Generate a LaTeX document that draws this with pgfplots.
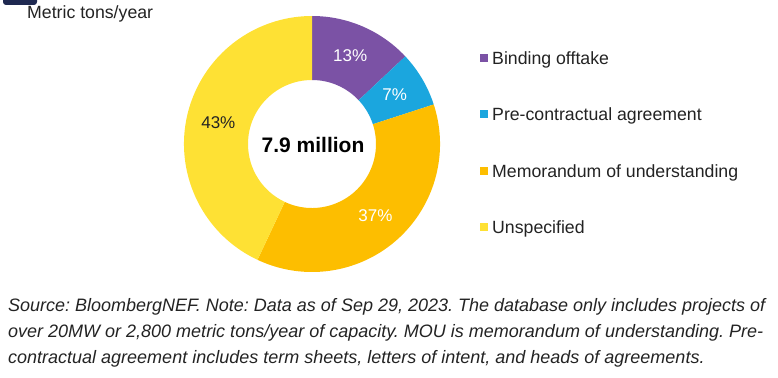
\documentclass[border=0pt]{standalone}
\usepackage{pgfplots}
\pgfplotsset{compat=1.18}
\usepackage{pgfplotstable}
\usepackage{fontspec}
\setmainfont{Liberation Sans}
\frenchspacing
\definecolor{cBind}{RGB}{123,82,165}
\definecolor{cPre}{RGB}{27,166,222}
\definecolor{cMOU}{RGB}{253,190,0}
\definecolor{cUns}{RGB}{254,225,52}
\definecolor{cNavy}{RGB}{30,40,80}
\definecolor{cText}{RGB}{35,35,35}

\pgfplotstableread{
value scol lcol
13 cBind white
7 cPre white
37 cMOU white
43 cUns cText
}\slices

\begin{document}
\begin{tikzpicture}
\useasboundingbox (0,0) rectangle (778bp,378bp);
\begin{axis}[
  at={(0,0)}, anchor=origin,
  x=1bp, y=1bp,
  xmin=0, xmax=778, ymin=0, ymax=378,
  hide axis, clip=false,
]
\pgfplotsextra{
  \def\cx{312}\def\cy{234}\def\Rout{128}\def\Rin{64}\def\Rlab{96}
  \def\acur{90}
  \pgfplotsforeachungrouped \i in {0,...,3}{%
    \pgfplotstablegetelem{\i}{value}\of\slices \let\sval\pgfplotsretval
    \pgfplotstablegetelem{\i}{scol}\of\slices \let\scol\pgfplotsretval
    \pgfplotstablegetelem{\i}{lcol}\of\slices \let\lcol\pgfplotsretval
    \pgfmathsetmacro\aend{\acur-3.6*\sval}
    \pgfmathsetmacro\amid{(\acur+\aend)/2}
    \pgfmathsetmacro\xa{\cx+\Rout*cos(\acur)}
    \pgfmathsetmacro\ya{\cy+\Rout*sin(\acur)}
    \pgfmathsetmacro\xb{\cx+\Rin*cos(\aend)}
    \pgfmathsetmacro\yb{\cy+\Rin*sin(\aend)}
    \pgfmathsetmacro\xm{\cx+\Rlab*cos(\amid)}
    \pgfmathsetmacro\ym{\cy+\Rlab*sin(\amid)}
    \fill[fill=\scol] (axis cs:\xa,\ya) arc[start angle=\acur,end angle=\aend,radius=\Rout bp]
      -- (axis cs:\xb,\yb) arc[start angle=\aend,end angle=\acur,radius=\Rin bp] -- cycle;
    \node[text=\lcol,font=\fontsize{17bp}{20bp}\selectfont] at (axis cs:\xm,\ym) {\sval\%};
    \let\acur\aend
  }
  \node[font=\fontsize{21bp}{24bp}\selectfont\bfseries,text=black] at (axis cs:313,233) {7.9 million};
  % legend
  \foreach \i/\yy/\lab in {0/320/Binding offtake,1/264/Pre-contractual agreement,2/207/Memorandum of understanding,3/151/Unspecified}{%
    \pgfplotstablegetelem{\i}{scol}\of\slices \let\scol\pgfplotsretval
    \fill[fill=\scol] (axis cs:480,\yy-4) rectangle (axis cs:488,\yy+4);
    \node[anchor=base west,inner sep=0pt,text=cText,font=\fontsize{17.7bp}{20bp}\selectfont] at (axis cs:492,\yy-6.3) {\lab};
  }
  \node[anchor=base west,inner sep=0pt,text=cText,font=\fontsize{17.7bp}{20bp}\selectfont] at (axis cs:27,359) {Metric tons/year};
  \fill[cNavy,rounded corners=3bp] (axis cs:3,373) rectangle (axis cs:37,385);
  \node[anchor=base west,inner sep=0pt,text=cText,font=\fontsize{18bp}{20bp}\selectfont\itshape] at (axis cs:8,66.5) {Source: BloombergNEF. Note: Data as of Sep 29, 2023. The database only includes projects of};
  \node[anchor=base west,inner sep=0pt,text=cText,font=\fontsize{18bp}{20bp}\selectfont\itshape] at (axis cs:8,40.5) {over 20MW or 2,800 metric tons/year of capacity. MOU is memorandum of understanding. Pre-};
  \node[anchor=base west,inner sep=0pt,text=cText,font=\fontsize{18bp}{20bp}\selectfont\itshape] at (axis cs:8,14.5) {contractual agreement includes term sheets, letters of intent, and heads of agreements.};
}
\end{axis}
\end{tikzpicture}
\end{document}
